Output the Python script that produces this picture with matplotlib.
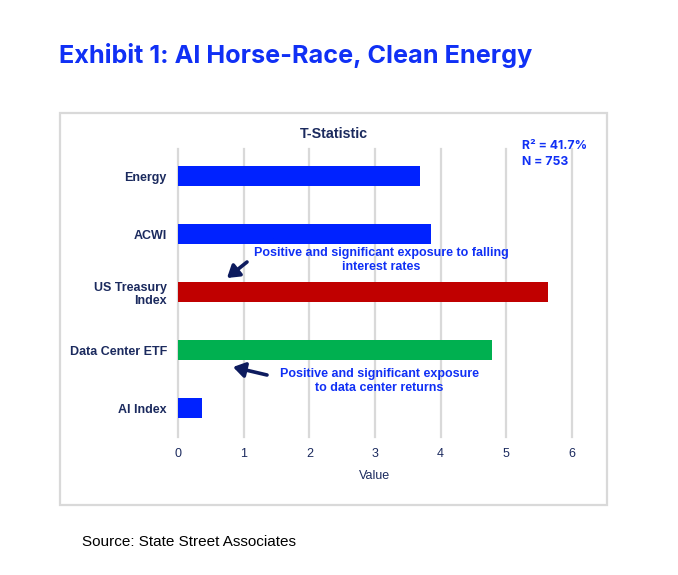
import matplotlib
matplotlib.use("Agg")
import matplotlib.pyplot as plt
from matplotlib.patches import Rectangle, FancyArrowPatch

categories = ["Energy", "ACWI", "US Treasury\nIndex", "Data Center ETF", "AI Index"]
values = [3.68, 3.86, 5.64, 4.78, 0.36]
bar_colors = ["#0022ff", "#0022ff", "#c00000", "#00b050", "#0022ff"]
xticks = [0, 1, 2, 3, 4, 5, 6]

W, H = 678, 575
NAVY = "#1b2a5e"
BLUE = "#1030f5"
SANS = "Liberation Sans"

fig = plt.figure(figsize=(W / 100, H / 100), dpi=100)


def px(x, y):
    return (x / W, 1 - y / H)


fig.patches.append(Rectangle(px(60, 505), 547 / W, 392 / H, transform=fig.transFigure,
                             fill=False, edgecolor="#d9d9d9", linewidth=1.6))

ax = fig.add_axes([178 / W, 1 - 437 / H, 394 / W, 288 / H])
ypos = list(range(len(categories)))
ax.barh(ypos, values, height=0.36, color=bar_colors, zorder=3)
ax.set_ylim(4.5, -0.466)
ax.set_xlim(0, 6)
ax.set_xticks(xticks)
ax.set_xticklabels([str(t) for t in xticks], fontsize=9, color=NAVY, family=SANS)
ax.set_yticks(ypos)
ax.set_yticklabels(categories, fontsize=9, color=NAVY, family=SANS,
                   fontweight="bold", linespacing=1.18)
ax.tick_params(axis="both", length=0)
ax.tick_params(axis="x", pad=8)
ax.tick_params(axis="y", pad=8)
for s in ax.spines.values():
    s.set_visible(False)
ax.grid(axis="x", color="#d9d9d9", linewidth=1.6, zorder=0)
for gl in ax.get_xgridlines():
    gl.set_clip_on(False)
ax.set_axisbelow(True)
ax.set_xlabel("Value", fontsize=9, color=NAVY, family=SANS, labelpad=7)

fig.text(*px(59, 55), "Exhibit 1: AI Horse-Race, Clean Energy", fontsize=18.15, fontweight="bold",
         color=BLUE, family="Inter", ha="left", va="center")
fig.text(*px(334, 134), "T-Statistic", fontsize=10.3, fontweight="bold", color=NAVY,
         family=SANS, ha="center", va="center")
fig.text(*px(522, 146), "R² = 41.7%", fontsize=8.8, fontweight="bold", color=BLUE,
         family="Inter", ha="left", va="center")
fig.text(*px(522, 162), "N = 753", fontsize=8.8, fontweight="bold", color=BLUE,
         family="Inter", ha="left", va="center")

fig.text(*px(381.5, 260), "Positive and significant exposure to falling\ninterest rates",
         fontsize=9, fontweight="bold", color=BLUE, family=SANS, ha="center",
         va="center", linespacing=1.18)
fig.text(*px(379, 381), "Positive and significant exposure\nto data center returns",
         fontsize=9, fontweight="bold", color=BLUE, family=SANS, ha="center",
         va="center", linespacing=1.18)

for tail, tip in [((247, 262), (227, 278)), ((267, 375), (233, 367))]:
    fig.patches.append(FancyArrowPatch(px(*tail), px(*tip), transform=fig.transFigure,
                                       arrowstyle="-|>,head_length=7,head_width=4.5",
                                       color="#0d1b5e", linewidth=2.6, shrinkA=0, shrinkB=0))

fig.text(*px(82, 542), "Source: State Street Associates", fontsize=11, color="black",
         family=SANS, ha="left", va="center")

fig.savefig("out.png", dpi=100)
